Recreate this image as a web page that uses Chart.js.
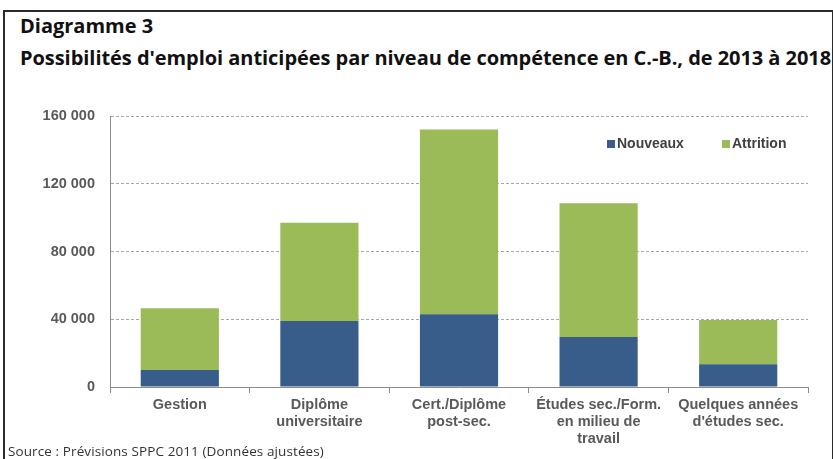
<!DOCTYPE html>
<html lang="fr">
<head>
<meta charset="utf-8">
<script src="https://cdn.jsdelivr.net/npm/chart.js@4/dist/chart.umd.min.js"></script>
<style>
  html, body { margin: 0; padding: 0; background: #fff; }
  body { width: 833px; height: 459px; position: relative; overflow: hidden; }
  #frame {
    position: absolute; left: 3px; top: 10px; width: 827px; height: 460px;
    border: 2px solid #2a2a2a; border-bottom: none;
  }
  .title {
    position: absolute; left: 20px; margin: 0;
    font-family: 'Open Sans', sans-serif; font-weight: 700; font-size: 20px;
    line-height: 27px; color: #111; white-space: nowrap;
  }
  #t1 { top: 12px; }
  #t2 { top: 44px; letter-spacing: -0.05px; }
  #source {
    position: absolute; left: 8px; top: 442px;
    font-family: 'Open Sans', sans-serif; font-size: 13.5px; line-height: 18px;
    color: #333; white-space: nowrap; letter-spacing: 0.1px;
  }
  canvas { position: absolute; left: 0; top: 0; }
</style>
</head>
<body>
<div id="frame"></div>
<div class="title" id="t1">Diagramme 3</div>
<div class="title" id="t2">Possibilités d'emploi anticipées par niveau de compétence en C.-B., de 2013 à 2018</div>
<canvas id="chart" width="833" height="459"></canvas>
<div id="source">Source : Prévisions SPPC 2011 (Données ajustées)</div>
<script>
const categories = [
    'Gestion',
    ['Diplôme', 'universitaire'],
    ['Cert./Diplôme', 'post-sec.'],
    ['Études sec./Form.', 'en milieu de', 'travail'],
    ['Quelques années', "d'études sec."],
];
const nouveaux = [10000, 39000, 43000, 29500, 13500];
const attrition = [36500, 58000, 109000, 79000, 26000];
const yTicks = [0, 40000, 80000, 120000, 160000];

const axisFont = { family: "'Liberation Sans', Arial, sans-serif", size: 14.5, weight: 'bold' };
const axisColor = '#595959';

function spaced(v) {
    return String(v).replace(/\B(?=(\d{3})+(?!\d))/g, ' ');
}

// legend sits inside the plot, top right, like the Excel original
const insideLegend = {
    id: 'insideLegend',
    afterDraw(chart) {
        const { ctx } = chart;
        const spots = [607, 722];
        ctx.save();
        ctx.font = "bold 14px 'Liberation Sans', Arial, sans-serif";
        ctx.textBaseline = 'middle';
        chart.data.datasets.forEach((ds, i) => {
            const x = spots[i];
            ctx.fillStyle = ds.backgroundColor;
            ctx.fillRect(x, 140, 8, 8);
            ctx.fillStyle = '#404040';
            ctx.fillText(ds.label, x + 10, 144);
        });
        ctx.restore();
    },
};

new Chart(document.getElementById('chart'), {
    type: 'bar',
    data: {
        labels: categories,
        datasets: [
            {
                label: 'Nouveaux',
                data: nouveaux,
                backgroundColor: '#385d8a',
                barPercentage: 0.56,
                categoryPercentage: 1,
            },
            {
                label: 'Attrition',
                data: attrition,
                backgroundColor: '#9bbb59',
                barPercentage: 0.56,
                categoryPercentage: 1,
            },
        ],
    },
    options: {
        responsive: false,
        animation: false,
        devicePixelRatio: 1,
        layout: { padding: { left: 0, top: 116, right: 25, bottom: 0 } },
        plugins: {
            legend: { display: false },
            tooltip: { enabled: false },
        },
        scales: {
            x: {
                stacked: true,
                afterFit(scale) { scale.height = 72; },
                grid: {
                    offset: true,
                    drawOnChartArea: false,
                    drawTicks: true,
                    tickLength: 6,
                    color: '#8c8c8c',
                },
                border: { color: '#8c8c8c', width: 1 },
                ticks: {
                    color: axisColor,
                    font: { ...axisFont, lineHeight: 1.17 },
                    padding: 4,
                    maxRotation: 0,
                    autoSkip: false,
                },
            },
            y: {
                stacked: true,
                min: 0,
                max: 160000,
                afterFit(scale) { scale.width = 110; },
                afterBuildTicks(scale) { scale.ticks = yTicks.map((v) => ({ value: v })); },
                grid: {
                    drawTicks: false,
                    color: '#a6a6a6',
                    lineWidth: 1,
                },
                border: { color: '#8c8c8c', width: 1, dash: [3, 2] },
                ticks: {
                    color: axisColor,
                    font: axisFont,
                    padding: 15,
                    callback: (v) => spaced(v),
                },
            },
        },
    },
    plugins: [insideLegend],
});
</script>
</body>
</html>
